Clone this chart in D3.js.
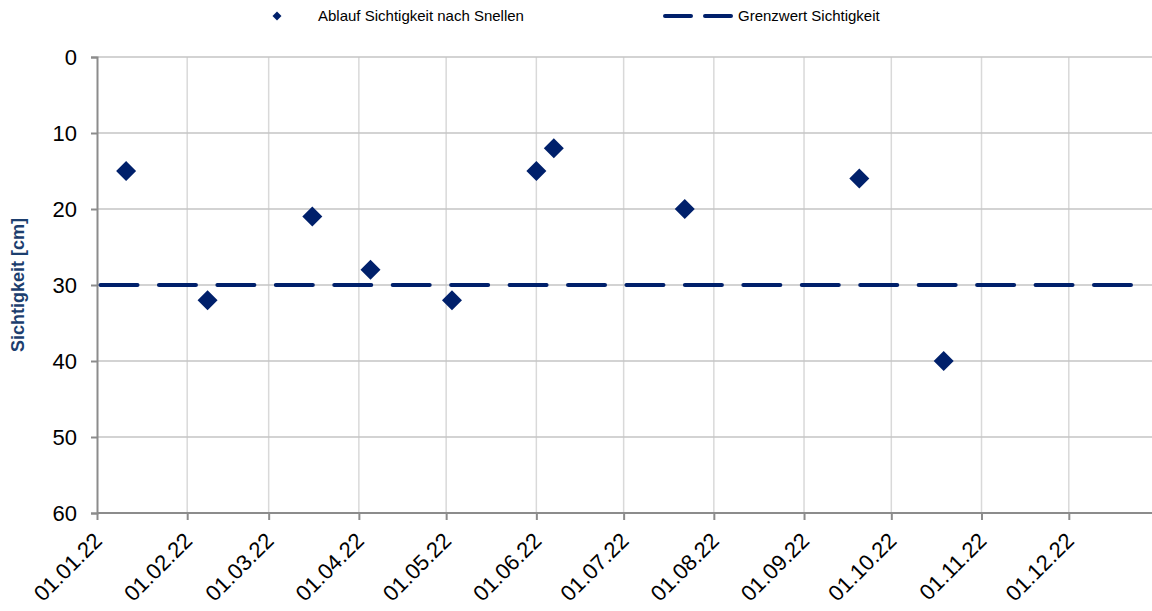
<!DOCTYPE html>
<html>
<head>
<meta charset="utf-8">
<script src="https://cdn.jsdelivr.net/npm/d3@7"></script>
<style>
  body { margin: 0; background: #fff; }
  svg { font-family: "Liberation Sans", Arial, sans-serif; }
</style>
</head>
<body>
<div id="chart"></div>
<script>
// measurements (date, Sichtigkeit in cm)
const dates = ["2022-01-11", "2022-02-08", "2022-03-16", "2022-04-05", "2022-05-03",
               "2022-06-01", "2022-06-07", "2022-07-22", "2022-09-20", "2022-10-19"];
const values = [15, 32, 21, 28, 32, 15, 12, 20, 16, 40];
const grenzwert = 30;
const yTicks = [0, 10, 20, 30, 40, 50, 60];
const xTickLabels = ["01.01.22", "01.02.22", "01.03.22", "01.04.22", "01.05.22", "01.06.22",
                     "01.07.22", "01.08.22", "01.09.22", "01.10.22", "01.11.22", "01.12.22"];
const seriesNames = ["Ablauf Sichtigkeit nach Snellen", "Grenzwert Sichtigkeit"];

const width = 1152, height = 611,
  margin = { top: 57, right: 0, bottom: 98, left: 97 },
  navy = "#00206b";

const parse = d3.timeParse("%Y-%m-%d"),
  parseTick = d3.timeParse("%d.%m.%y");

const svg = d3.select('#chart').append('svg')
  .attr('width', width)
  .attr('height', height);

// the plot area runs past the right edge of the picture
const x = d3.scaleTime()
  .domain([parse("2022-01-01"), parse("2023-01-01")])
  .range([margin.left, 1159]);

const y = d3.scaleLinear()
  .domain([0, 60])
  .range([margin.top, height - margin.bottom]);

const tickDates = xTickLabels.map(parseTick);

// grid
svg.append('g')
  .selectAll('line')
  .data(tickDates.slice(1))
  .enter().append('line')
  .attr('x1', d => x(d)).attr('x2', d => x(d))
  .attr('y1', y(0)).attr('y2', y(60))
  .attr('stroke', '#d9d9d9').attr('stroke-width', 1.5);

svg.append('g')
  .selectAll('line')
  .data(yTicks.slice(0, -1))
  .enter().append('line')
  .attr('x1', margin.left).attr('x2', width)
  .attr('y1', d => y(d)).attr('y2', d => y(d))
  .attr('stroke', '#c4c4c4').attr('stroke-width', 1.5);

// y axis
const yAxis = svg.append('g')
  .attr('transform', 'translate(' + margin.left + ',0)')
  .call(d3.axisLeft(y).tickValues(yTicks).tickSize(6).tickPadding(14));
yAxis.select('.domain').attr('stroke', '#8c8c8c').attr('stroke-width', 2);
yAxis.selectAll('.tick line').attr('stroke', '#8c8c8c').attr('stroke-width', 2);
yAxis.selectAll('.tick text').attr('font-size', 22).attr('fill', '#000')
  .attr('font-family', '"Liberation Sans", Arial, sans-serif');

// x axis
const xAxis = svg.append('g')
  .attr('transform', 'translate(0,' + y(60) + ')')
  .call(d3.axisBottom(x).tickValues(tickDates).tickFormat(d3.timeFormat("%d.%m.%y"))
    .tickSize(7).tickSizeOuter(0));
xAxis.select('.domain').attr('stroke', '#8c8c8c').attr('stroke-width', 2)
  .attr('d', 'M' + margin.left + ',0H' + width);
xAxis.selectAll('.tick line').attr('stroke', '#8c8c8c').attr('stroke-width', 2);
xAxis.selectAll('.tick text')
  .attr('font-size', 22).attr('fill', '#000')
  .attr('font-family', '"Liberation Sans", Arial, sans-serif')
  .attr('text-anchor', 'end')
  .attr('dy', null).attr('y', 0)
  .attr('transform', 'translate(6,29) rotate(-45)');

// y label
svg.append('text')
  .attr('transform', 'translate(24,' + y(30) + ') rotate(-90)')
  .attr('text-anchor', 'middle')
  .attr('font-size', 18).attr('font-weight', 'bold')
  .attr('fill', '#1c3e6e')
  .text('Sichtigkeit [cm]');

// limit line
svg.append('line')
  .attr('x1', margin.left).attr('x2', width)
  .attr('y1', y(grenzwert)).attr('y2', y(grenzwert))
  .attr('stroke', navy).attr('stroke-width', 4)
  .attr('stroke-linecap', 'round')
  .attr('stroke-dasharray', '37,21.44')
  .attr('stroke-dashoffset', -3.5);

// points
const data = dates.map((d, i) => ({ date: parse(d), value: values[i] }));
const diamond = d3.symbol().type(d3.symbolSquare).size(200);
svg.append('g')
  .selectAll('path')
  .data(data)
  .enter().append('path')
  .attr('d', diamond)
  .attr('transform', d => 'translate(' + x(d.date) + ',' + y(d.value) + ') rotate(45)')
  .attr('fill', navy);

// legend
const legend = svg.append('g');
legend.append('path')
  .attr('d', d3.symbol().type(d3.symbolSquare).size(40))
  .attr('transform', 'translate(277,16) rotate(45)')
  .attr('fill', navy);
legend.append('text')
  .attr('x', 318).attr('y', 21)
  .attr('font-size', 15).attr('fill', '#000')
  .text(seriesNames[0]);
legend.append('line')
  .attr('x1', 665).attr('x2', 733)
  .attr('y1', 16).attr('y2', 16)
  .attr('stroke', navy).attr('stroke-width', 4)
  .attr('stroke-linecap', 'round')
  .attr('stroke-dasharray', '26,14');
legend.append('text')
  .attr('x', 738).attr('y', 21)
  .attr('font-size', 15).attr('fill', '#000')
  .text(seriesNames[1]);
</script>
</body>
</html>
